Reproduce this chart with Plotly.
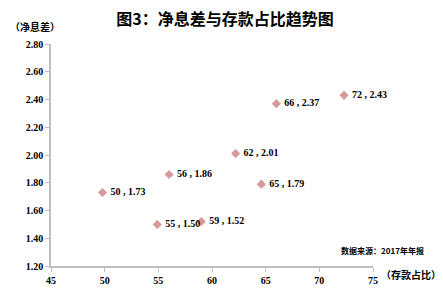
import plotly.graph_objects as go

# data
deposit_share = [49.8, 56.0, 62.2, 66.0, 72.3, 64.6, 54.9, 59.0]
nim = [1.73, 1.86, 2.01, 2.37, 2.43, 1.79, 1.50, 1.52]
labels = ["50 , 1.73", "56 , 1.86", "62 , 2.01", "66 , 2.37", "72 , 2.43", "65 , 1.79", "55 , 1.50", "59 , 1.52"]
x_ticks = [45, 50, 55, 60, 65, 70, 75]
y_ticks = [1.2, 1.4, 1.6, 1.8, 2.0, 2.2, 2.4, 2.6, 2.8]

serif = "Liberation Serif, DejaVu Serif, serif"
cjk = "Noto Sans CJK SC"

fig = go.Figure()
fig.add_trace(go.Scatter(
    x=deposit_share, y=nim, mode="markers+text",
    text=["&nbsp;<b>%s</b>" % t for t in labels], textposition="middle right",
    textfont=dict(family=serif, size=10, color="black"),
    marker=dict(symbol="diamond", size=7, color="#D6999C"),
    cliponaxis=False, showlegend=False))

fig.update_layout(
    width=443, height=298,
    margin=dict(l=51, r=70, t=44, b=26),
    paper_bgcolor="white", plot_bgcolor="white",
    xaxis=dict(range=[45, 75], tickvals=x_ticks, ticktext=["<b>%d</b>" % v for v in x_ticks],
               showgrid=False, zeroline=False, showline=True, linecolor="#BFBFBF", linewidth=1.5,
               ticks="outside", ticklen=4, tickcolor="#BFBFBF",
               tickfont=dict(family=serif, size=10, color="black")),
    yaxis=dict(range=[1.2, 2.8], tickvals=y_ticks, ticktext=["<b>%.2f</b>" % v for v in y_ticks],
               showgrid=False, zeroline=False, showline=True, linecolor="#BFBFBF", linewidth=1.5,
               ticks="outside", ticklen=4, tickcolor="#BFBFBF",
               tickfont=dict(family=serif, size=10, color="black")),
    title=dict(text="<b>图3：净息差与存款占比趋势图</b>", xref="container", x=225 / 443, xanchor="center",
               yref="container", y=1 - 19 / 298, yanchor="middle",
               font=dict(family=cjk, size=16, color="black")),
    annotations=[
        dict(text="<b>（净息差）</b>", xref="paper", yref="paper", x=-0.135, y=1.08,
             xanchor="left", yanchor="middle", showarrow=False, font=dict(family=cjk, size=10, color="black")),
        dict(text="<b>（存款占比）</b>", xref="paper", yref="paper", x=1.02, y=-0.04,
             xanchor="left", yanchor="middle", showarrow=False, font=dict(family=cjk, size=10, color="black")),
        dict(text="<b>数据来源：2017年年报</b>", xref="paper", yref="paper", x=1.165, y=0.07,
             xanchor="right", yanchor="middle", showarrow=False, font=dict(family=cjk, size=8, color="black")),
    ],
)

fig.write_html("out.html")
